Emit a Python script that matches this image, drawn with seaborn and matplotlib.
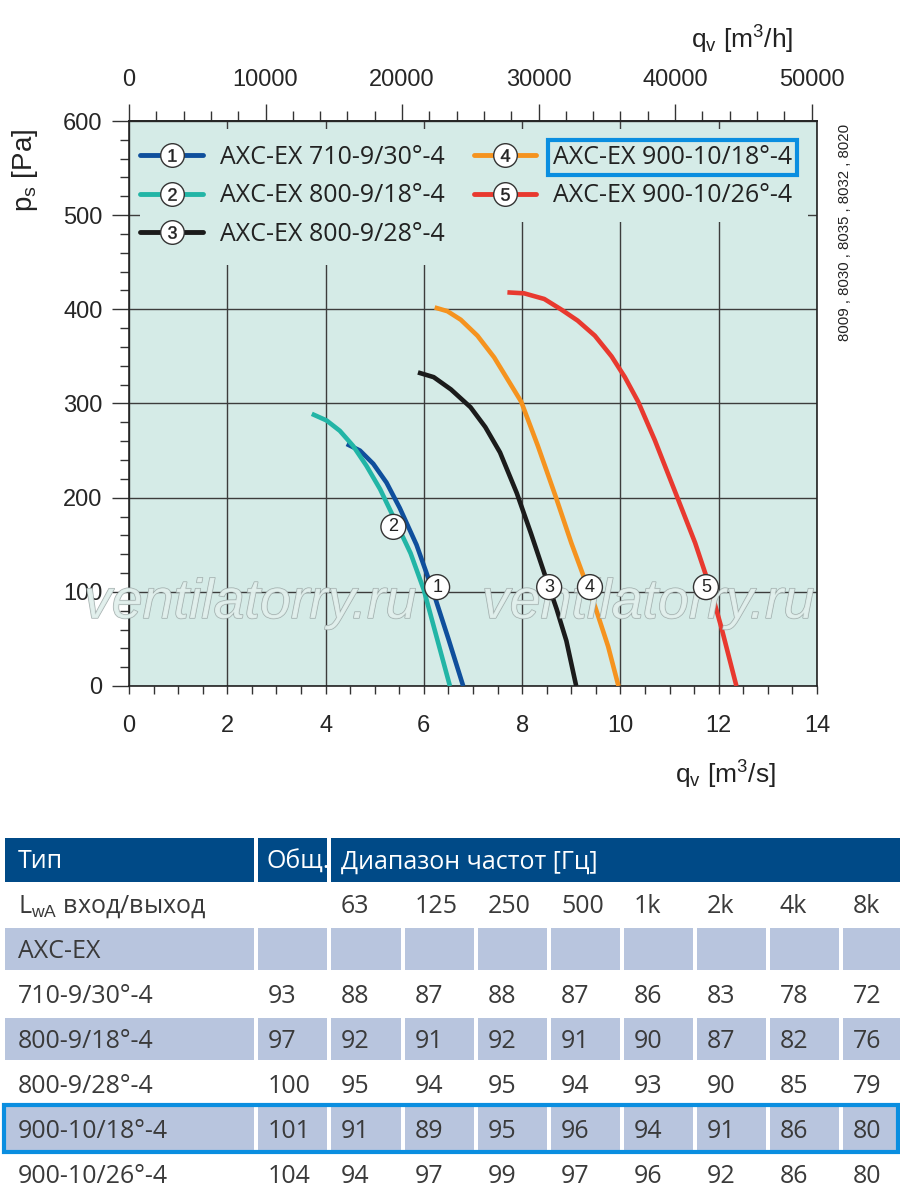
import numpy as np
import pandas as pd
import matplotlib
matplotlib.use("Agg")
import matplotlib.pyplot as plt
import seaborn as sns
from matplotlib.lines import Line2D
from matplotlib.patches import Rectangle
from matplotlib.legend_handler import HandlerTuple
from matplotlib.ticker import MultipleLocator, FixedLocator
import matplotlib.patheffects as pe

# fan curves: q_v [m3/s] against p_s [Pa]
c1_q = [4.43, 4.70, 4.97, 5.24, 5.51, 5.85, 6.19, 6.50, 6.80]
c1_p = [257, 250, 236, 216, 189, 150, 100, 50, 0]
c2_q = [3.72, 4.02, 4.29, 4.56, 4.83, 5.11, 5.34, 5.73, 6.00, 6.27, 6.53]
c2_p = [289, 282, 271, 255, 234, 209, 184, 141, 102, 50, 0]
c3_q = [5.88, 6.20, 6.55, 6.95, 7.25, 7.55, 7.89, 8.18, 8.45, 8.70, 8.90, 9.10]
c3_p = [333, 328, 315, 296, 275, 248, 205, 162, 120, 82, 48, 0]
c4_q = [6.22, 6.48, 6.75, 7.09, 7.43, 7.77, 7.98, 8.32, 8.69, 9.00, 9.24, 9.48, 9.75, 9.96]
c4_p = [402, 398, 389, 372, 349, 320, 302, 255, 200, 152, 118, 85, 42, 0]
c5_q = [7.70, 8.04, 8.45, 8.79, 9.13, 9.48, 9.82, 10.09, 10.36, 10.70, 11.16,
        11.52, 11.84, 12.06, 12.36]
c5_p = [418, 417, 411, 400, 388, 372, 350, 328, 302, 261, 200, 152, 102, 61, 0]

fans = ["AXC-EX 710-9/30°-4", "AXC-EX 800-9/18°-4", "AXC-EX 800-9/28°-4",
        "AXC-EX 900-10/18°-4", "AXC-EX 900-10/26°-4"]
fan_colors = ["#0f4f9c", "#22b5a6", "#1b1b1b", "#f5931f", "#e8392f"]
label_q = [6.27, 5.38, 8.55, 9.38, 11.74]
label_p = [105, 169, 105, 105, 105]

# sound power table
types = ["710-9/30°-4", "800-9/18°-4", "800-9/28°-4", "900-10/18°-4", "900-10/26°-4"]
total = [93, 97, 100, 101, 104]
bands = ["63", "125", "250", "500", "1k", "2k", "4k", "8k"]
levels = [
    [88, 87, 88, 87, 86, 83, 78, 72],
    [92, 91, 92, 91, 90, 87, 82, 76],
    [95, 94, 95, 94, 93, 90, 85, 79],
    [91, 89, 95, 96, 94, 91, 86, 80],
    [94, 97, 99, 97, 96, 92, 86, 80],
]

sns.set_style("white")
plt.rcParams["font.family"] = ["Liberation Sans", "DejaVu Sans"]
plt.rcParams["mathtext.fontset"] = "custom"
plt.rcParams["mathtext.rm"] = "Liberation Sans"
plt.rcParams["mathtext.it"] = "Liberation Sans:italic"

curves = pd.concat([
    pd.DataFrame({"q": q, "p": p, "fan": name})
    for q, p, name in zip([c1_q, c2_q, c3_q, c4_q, c5_q],
                          [c1_p, c2_p, c3_p, c4_p, c5_p], fans)
], ignore_index=True)

fig = plt.figure(figsize=(9, 12.01), dpi=100)
ax = fig.add_axes([129 / 900, 1 - 686 / 1201, 688 / 900, 565 / 1201])
bg = "#d5ebe7"
ax.set_facecolor(bg)

ax.set_axisbelow(True)
ax.grid(True, which="major", color="#3c3c3c", lw=1.0)

# legend area hides the grid
ax.add_patch(Rectangle((0.22, 493), 13.6, 98, fc=bg, ec="none", zorder=1))
ax.add_patch(Rectangle((0.22, 447), 6.9, 50, fc=bg, ec="none", zorder=1))

sns.lineplot(data=curves, x="q", y="p", hue="fan", palette=fan_colors,
             sort=False, estimator=None, lw=3.3, legend=False, ax=ax, zorder=3,
             solid_joinstyle="round", solid_capstyle="butt")

for xc in (250 / 900, 648 / 900):
    ax.text(xc, 1 - 604 / 1201, "ventilatorry.ru", transform=fig.transFigure,
            ha="center", va="center", fontsize=40, style="italic",
            color="#e2f0ed", alpha=0.85, zorder=3.5, clip_on=False,
            path_effects=[pe.withStroke(linewidth=1.0, foreground="#97a3a2")])

for i in range(5):
    ax.text(label_q[i], label_p[i], str(i + 1), ha="center", va="center",
            fontsize=13, color="#222", zorder=4,
            bbox=dict(boxstyle="circle,pad=0.22", fc="white", ec="#333", lw=1))

ax.set_xlim(0, 14)
ax.set_ylim(0, 600)
ax.xaxis.set_major_locator(MultipleLocator(2))
ax.xaxis.set_minor_locator(MultipleLocator(0.5))
ax.yaxis.set_major_locator(MultipleLocator(100))
ax.yaxis.set_minor_locator(MultipleLocator(20))
ax.tick_params(axis="x", which="both", direction="out", length=6, width=1,
               color="#333", labelsize=17, pad=15, bottom=True)
ax.tick_params(axis="y", which="major", direction="out", length=12, width=1,
               color="#333", labelsize=17, pad=7, left=True)
ax.tick_params(axis="y", which="minor", direction="out", length=6.5, width=1,
               color="#333", left=True)
for s in ax.spines.values():
    s.set_color("#222")
    s.set_linewidth(1.2)
ax.set_xlabel("")
ax.set_ylabel("")

top = ax.secondary_xaxis("top", functions=(lambda q: q * 3600, lambda h: h / 3600))
top.xaxis.set_major_locator(FixedLocator([0, 10000, 20000, 30000, 40000, 50000]))
top.xaxis.set_minor_locator(FixedLocator(list(range(0, 50001, 2000))))
top.tick_params(which="major", direction="out", length=12.5, width=1, color="#333",
                labelsize=17, pad=9)
top.tick_params(which="minor", direction="out", length=7, width=1, color="#333")
top.spines["top"].set_linewidth(1.2)

handles = []
for i, c in enumerate(fan_colors):
    handles.append((
        Line2D([], [], color=c, lw=3.5),
        Line2D([], [], marker="o", ms=17, mfc="white", mec="#333", mew=1, ls="none"),
        Line2D([], [], marker=f"${i + 1}$", ms=9, color="#222", mew=0.3, ls="none"),
    ))
leg = ax.legend(handles, fans, handler_map={tuple: HandlerTuple(ndivide=1)},
                ncol=2, loc="upper left", bbox_to_anchor=(-0.016, 0.997),
                frameon=False, handlelength=2.5, handletextpad=0.68,
                columnspacing=1.16, labelspacing=0.53,
                prop={"family": ["Open Sans", "DejaVu Sans"], "size": 18})
leg.set_zorder(5)
for t in leg.get_texts():
    t.set_color("#222")
leg.get_texts()[3].set_bbox(dict(boxstyle="square,pad=0.2", fc="none",
                                 ec="#0a8ee0", lw=3))

fig.text(25 / 900, 1 - 170 / 1201, r"p$_\mathrm{s}$ [Pa]", rotation=90,
         ha="center", va="center", fontsize=20, color="#222")
fig.text(725 / 900, 1 - 775 / 1201, r"q$_\mathrm{v}$ [m$^3$/s]",
         ha="center", va="center", fontsize=19, color="#222")
fig.text(742 / 900, 1 - 40 / 1201, r"q$_\mathrm{v}$ [m$^3$/h]",
         ha="center", va="center", fontsize=19, color="#222")
fig.text(845 / 900, 1 - 232 / 1201, "8009 , 8030 , 8035 , 8032 , 8020",
         rotation=90, ha="center", va="center", fontsize=10.8, color="#222")

# table
tax = fig.add_axes([0, 0, 1, 1 - 830 / 1201])
tax.set_xlim(0, 900)
tax.set_ylim(1201, 830)
tax.axis("off")

col_l = [5, 258, 331, 405, 478, 551, 624, 697, 770, 843]
col_r = [254, 327, 401, 474, 547, 620, 693, 766, 839, 900]
row_t = [838 + 44.9 * i for i in range(8)]
row_h = 42.5
dark = "#004a87"
shade = "#b8c5de"
txt = "#3a3a3a"
tfont = ["Open Sans", "DejaVu Sans"]
fs = 18

for (l, r) in [(col_l[0], col_r[0]), (col_l[1], col_r[1]), (col_l[2], col_r[-1])]:
    tax.add_patch(Rectangle((l, row_t[0]), r - l, row_h + 1.5, fc=dark, ec="none"))
yc = row_t[0] + 24
tax.text(col_l[0] + 13, yc, "Тип", color="white", fontsize=fs, family=tfont, va="center")
tax.text(col_l[1] + 9, yc, "Общ.", color="white", fontsize=fs, family=tfont, va="center")
tax.text(col_l[2] + 10, yc, "Диапазон частот [Гц]", color="white",
         fontsize=fs, family=tfont, va="center")

for ri in (2, 4, 6):
    for l, r in zip(col_l, col_r):
        tax.add_patch(Rectangle((l, row_t[ri]), r - l, row_h, fc=shade, ec="none"))

yc = row_t[1] + 24
tax.text(col_l[0] + 13, yc, r"L$_{\mathrm{wA}}$ вход/выход", color=txt, fontsize=fs,
         family=tfont, va="center")
for k, b in enumerate(bands):
    tax.text(col_l[2 + k] + 10, yc, b, color=txt, fontsize=fs, family=tfont, va="center")

tax.text(col_l[0] + 13, row_t[2] + 24, "AXC-EX", color=txt, fontsize=fs,
         family=tfont, va="center")

for j, name in enumerate(types):
    yc = row_t[3 + j] + 24
    tax.text(col_l[0] + 13, yc, name, color=txt, fontsize=fs, family=tfont, va="center")
    tax.text(col_l[1] + 10, yc, str(total[j]), color=txt, fontsize=fs, family=tfont,
             va="center")
    for k, v in enumerate(levels[j]):
        tax.text(col_l[2 + k] + 10, yc, str(v), color=txt, fontsize=fs, family=tfont,
                 va="center")

tax.add_patch(Rectangle((4, row_t[6] - 2), 894, row_h + 4, fc="none",
                        ec="#0a8ee0", lw=3, clip_on=False))

fig.savefig("out.png", dpi=100, facecolor="white")
